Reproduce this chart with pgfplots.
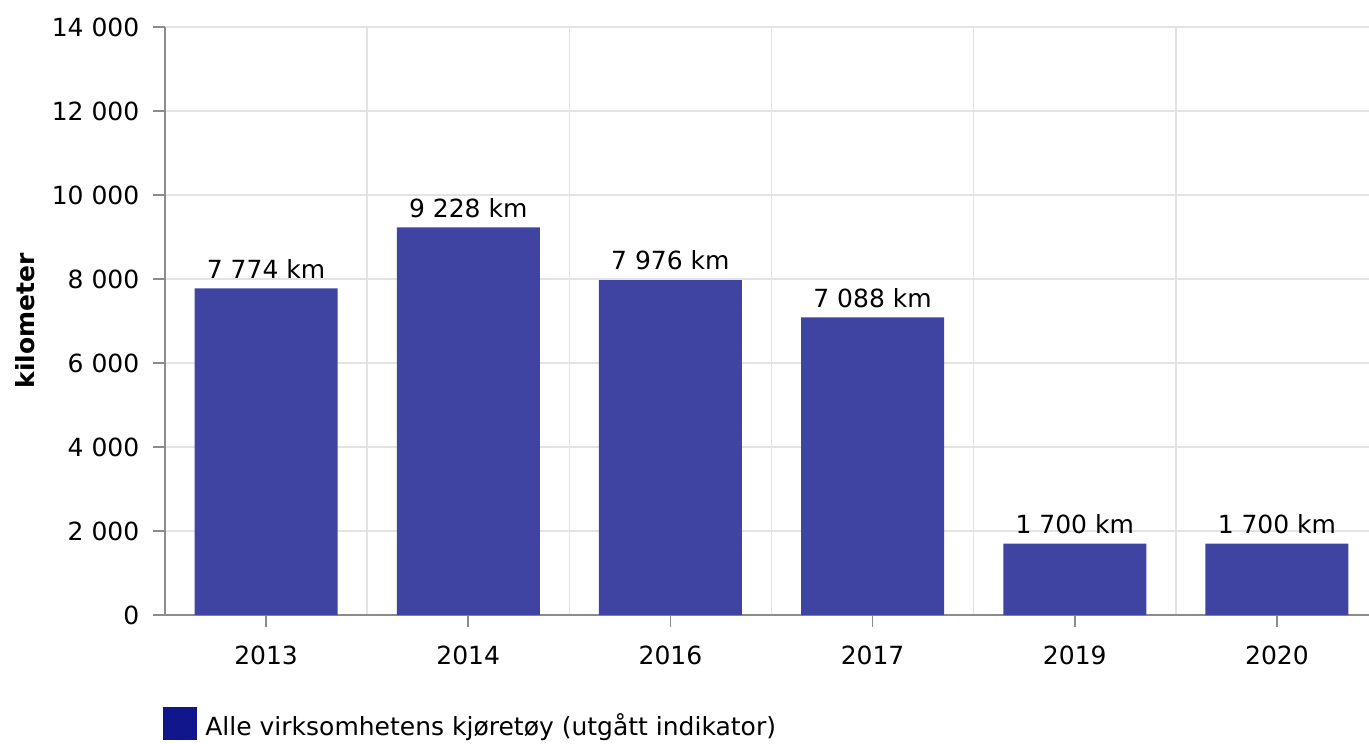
\documentclass[border=0pt]{standalone}
\usepackage{fontspec}
\setmainfont{DejaVu Sans}
\usepackage{pgfplots}
\pgfplotsset{compat=1.18}
\definecolor{barblue}{HTML}{3F44A3}
\definecolor{legblue}{HTML}{10168C}
\definecolor{gridgray}{HTML}{E3E3E3}
\definecolor{axisgray}{HTML}{8C8C8C}
\newcommand{\chartfont}{\fontsize{12.5}{15}\selectfont}
\begin{document}
\chartfont
\begin{tikzpicture}
\begin{axis}[
    width=606.5pt, height=294pt, scale only axis,
    ybar, bar width=71.5pt, bar shift=0pt,
    xmin=-0.5, xmax=5.5, ymin=0, ymax=14000,
    scaled y ticks=false,
    axis lines*=left,
    axis line style={axisgray, line width=0.8pt},
    xtick={0,...,5},
    xticklabels={2013,2014,2016,2017,2019,2020},
    minor xtick={0.5,1.5,...,4.5},
    ytick={0,2000,...,14000},
    yticklabels={0,2 000,4 000,6 000,8 000,10 000,12 000,14 000},
    tick align=outside,
    major tick length=6pt, minor tick length=0pt,
    tick style={axisgray, line width=0.8pt},
    xmajorgrids=false, ymajorgrids=true, xminorgrids=true,
    grid style={gridgray, line width=0.8pt},
    minor grid style={gridgray, line width=0.8pt},
    yticklabel style={font=\chartfont, xshift=-2.5pt},
    xticklabel style={font=\chartfont, yshift=-5pt},
    ylabel={kilometer},
    ylabel style={font=\chartfont\bfseries},
    nodes near coords,
    point meta=explicit symbolic,
    every node near coord/.append style={font=\chartfont, black, yshift=0.5pt},
    legend style={at={(axis description cs:0,0)}, anchor=north west,
        xshift=-4pt, yshift=-44pt, draw=none, fill=none,
        font=\chartfont,
        /tikz/every odd column/.append style={column sep=2pt}},
    legend image code/.code={\fill[legblue] (0pt,-7pt) rectangle (17pt,9.5pt);},
]
\addplot[fill=barblue, draw=none] coordinates {
    (0,7774) [7 774 km]
    (1,9228) [9 228 km]
    (2,7976) [7 976 km]
    (3,7088) [7 088 km]
    (4,1700) [1 700 km]
    (5,1700) [1 700 km]
};
\addlegendentry{Alle virksomhetens kjøretøy (utgått indikator)}
\coordinate (tl) at (rel axis cs:0,1);
\coordinate (br) at (rel axis cs:1,0);
\end{axis}
\pgfresetboundingbox
\useasboundingbox ([xshift=-82.5pt,yshift=13.5pt]tl) rectangle ([xshift=-4.5pt,yshift=-64pt]br);
\end{tikzpicture}
\end{document}
